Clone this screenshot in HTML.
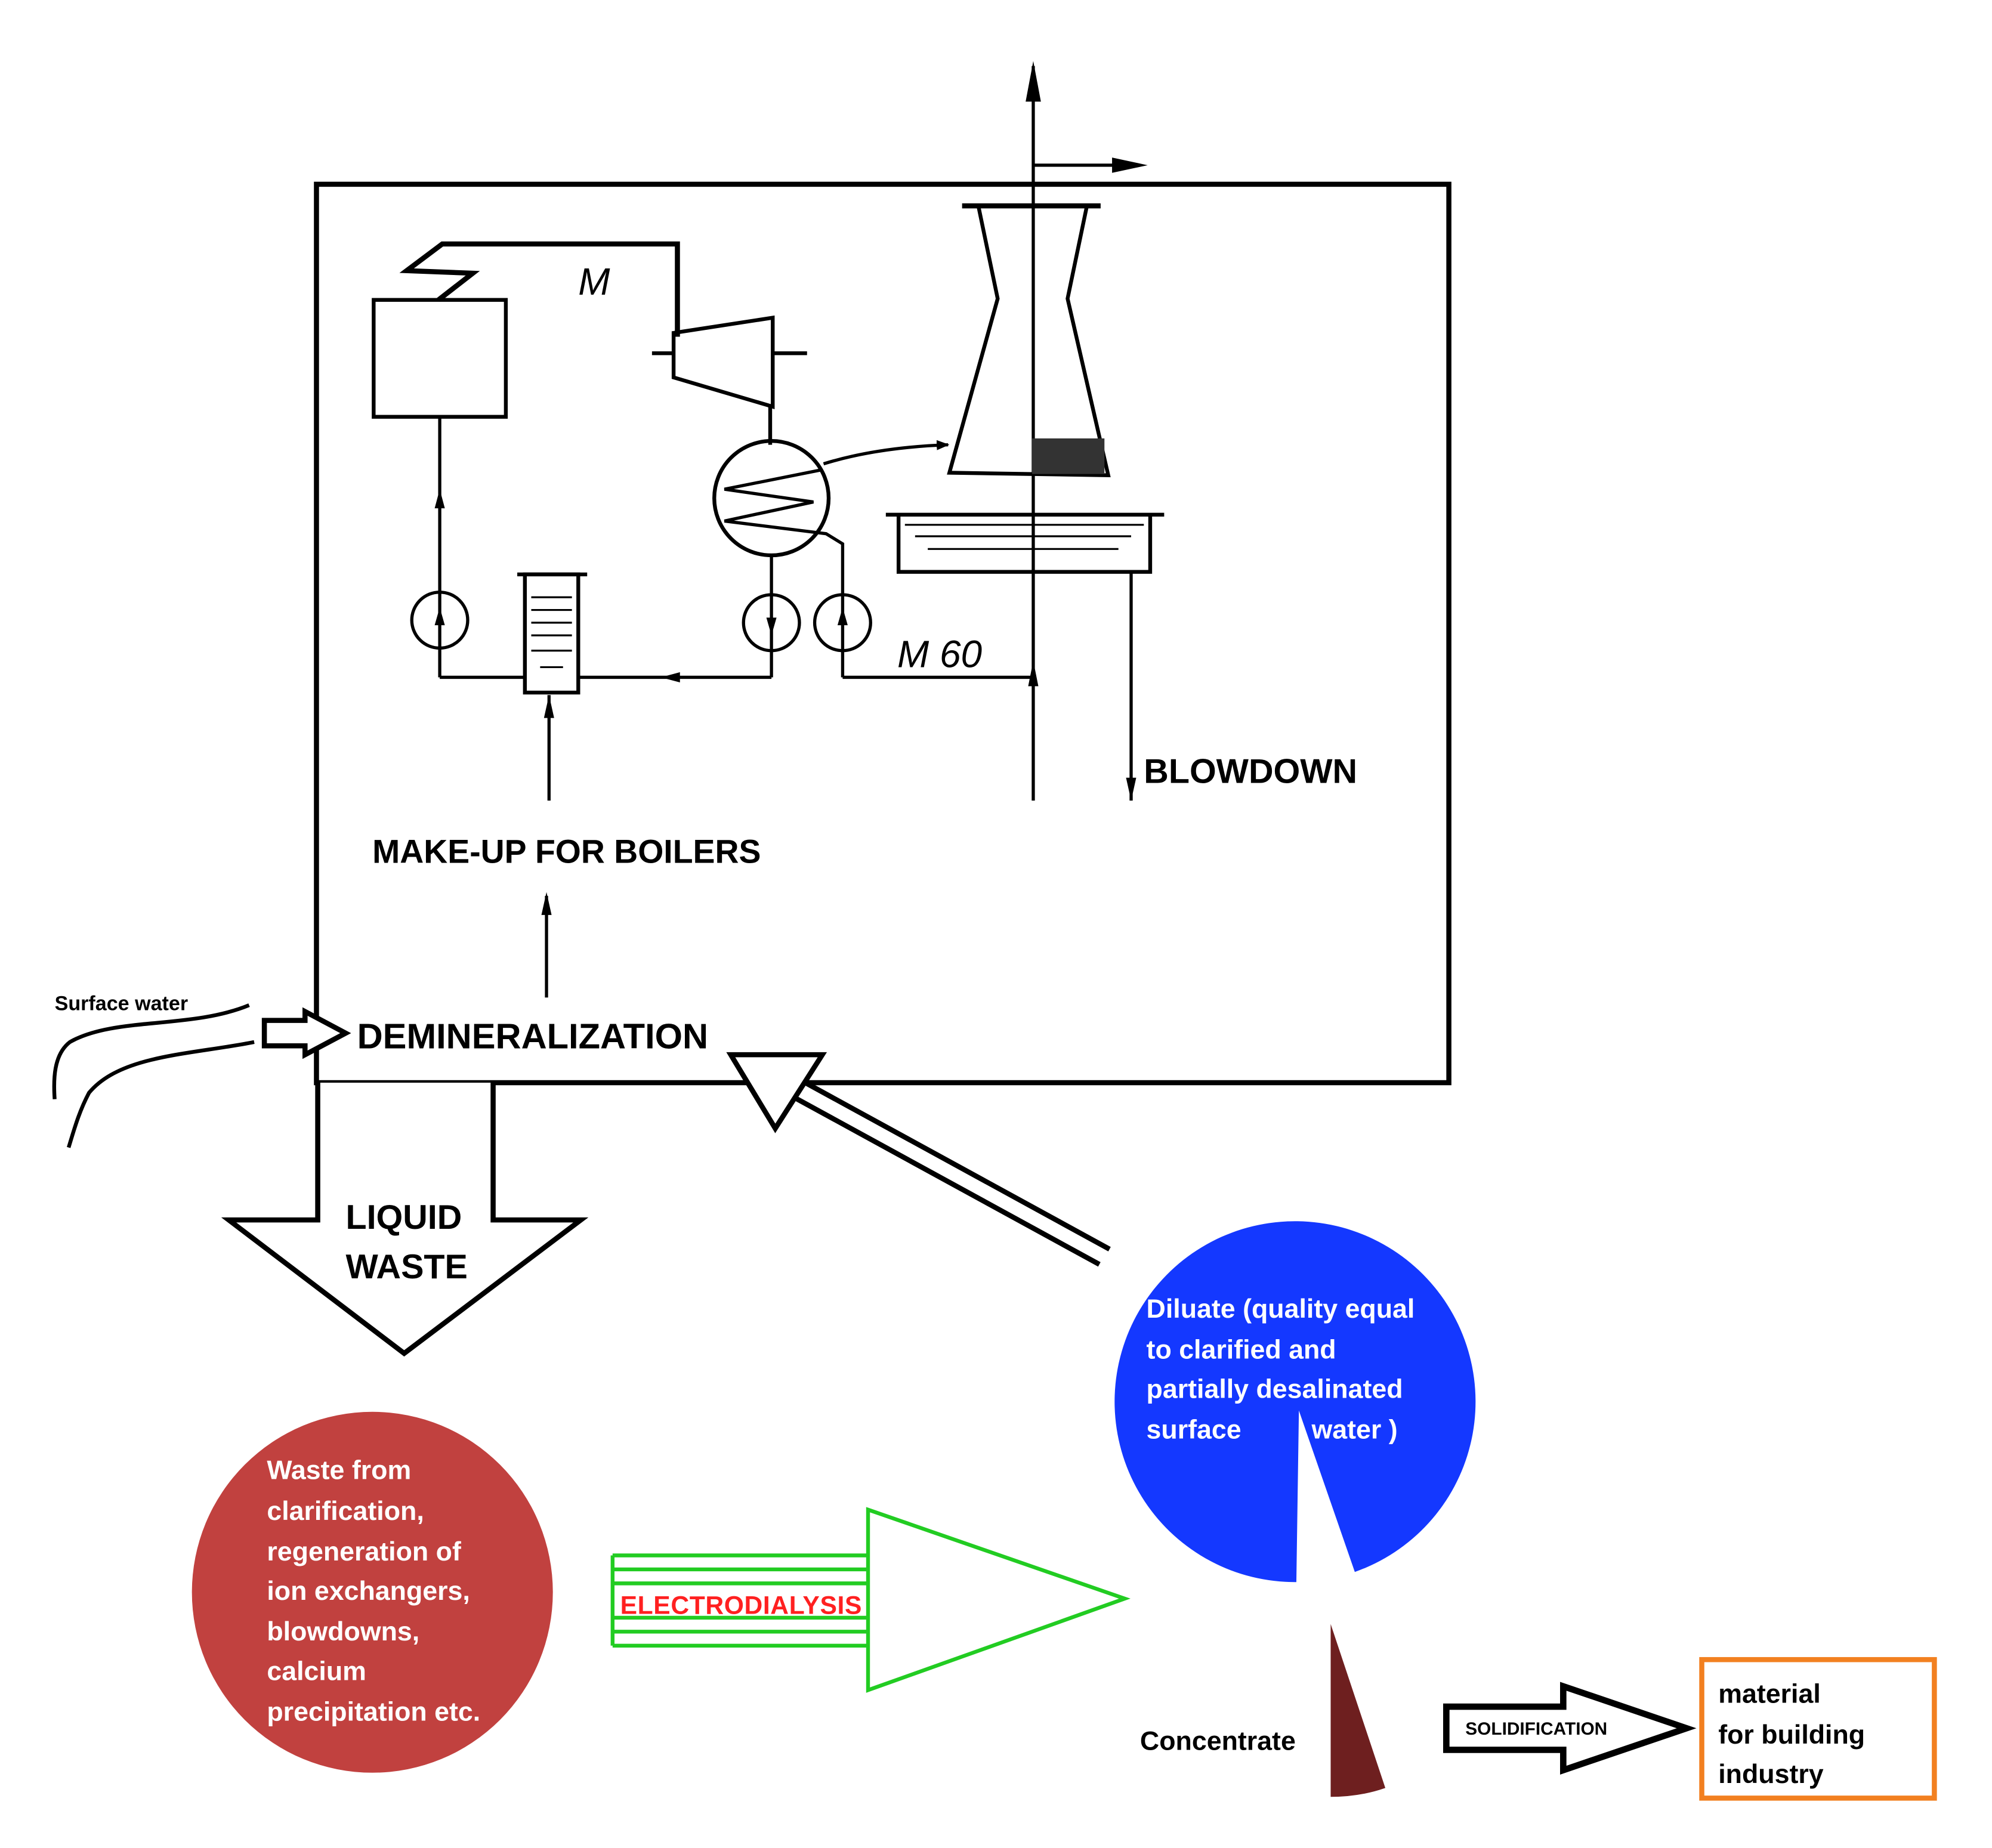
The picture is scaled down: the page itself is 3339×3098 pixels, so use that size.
<!DOCTYPE html>
<html><head><meta charset="utf-8"><style>html,body{margin:0;padding:0;background:#fff}svg{display:block}</style></head>
<body>
<svg width="3339" height="3098" viewBox="0 0 1560.3 1447.7" preserveAspectRatio="none" xmlns="http://www.w3.org/2000/svg" font-family="Liberation Sans, sans-serif">
<defs>
<marker id="ah" markerWidth="10" markerHeight="10" refX="9" refY="5" orient="auto" markerUnits="userSpaceOnUse"><path d="M0,1 L10,5 L0,9 Z" fill="#000"/></marker>
</defs>
<rect width="1560.3" height="1447.7" fill="#fff"/>
<g transform="scale(0.9955)">
<rect x="249" y="145" width="891" height="707" fill="none" stroke="#000" stroke-width="4"/>
<line x1="813" y1="630" x2="813" y2="52" stroke="#000" stroke-width="2.5"/>
<path d="M813,48 L807,80 L819,80 Z" fill="#000"/>
<line x1="813" y1="130" x2="885" y2="130" stroke="#000" stroke-width="2.5"/>
<path d="M903,130 L875,124 L875,136 Z" fill="#000"/>
<line x1="757" y1="162" x2="866" y2="162" stroke="#000" stroke-width="4"/>
<path d="M770,163 L785,235 L747,372 L872,374 L840,235 L855,163" fill="none" stroke="#000" stroke-width="3"/>
<rect x="812" y="345" width="57" height="28" fill="#333"/>
<line x1="697" y1="405" x2="916" y2="405" stroke="#000" stroke-width="3"/>
<path d="M707,405 L707,450 L905,450 L905,405" fill="none" stroke="#000" stroke-width="3"/>
<g stroke="#000" stroke-width="1.5"><line x1="712" y1="413" x2="900" y2="413"/><line x1="720" y1="422" x2="890" y2="422"/><line x1="730" y1="432" x2="880" y2="432"/></g>
<rect x="294" y="236" width="104" height="92" fill="none" stroke="#000" stroke-width="3"/>
<path d="M345,236 L372,215 L320,213 L348,192 L533,192 L533,265" fill="none" stroke="#000" stroke-width="4"/>
<text x="455" y="232" font-size="30" font-style="italic">M</text>
<path d="M530,262 L608,250 L608,320 L530,297 Z" fill="none" stroke="#000" stroke-width="3"/>
<line x1="513" y1="278" x2="530" y2="278" stroke="#000" stroke-width="3"/>
<line x1="608" y1="278" x2="635" y2="278" stroke="#000" stroke-width="3"/>
<line x1="606" y1="320" x2="606" y2="350" stroke="#000" stroke-width="3"/>
<ellipse cx="607" cy="392" rx="45" ry="45" fill="none" stroke="#000" stroke-width="3"/>
<path d="M645,370 L570,385 L640,395 L570,410 L650,420 L663,428 L663,468" fill="none" stroke="#000" stroke-width="2.5"/>
<path d="M648,365 Q690,352 746,350" fill="none" stroke="#000" stroke-width="2.5" marker-end="url(#ah)"/>
<g fill="none" stroke="#000" stroke-width="2.5">
<ellipse cx="346" cy="488" rx="22" ry="22"/>
<ellipse cx="607" cy="490" rx="22" ry="22"/>
<ellipse cx="663" cy="490" rx="22" ry="22"/>
<line x1="346" y1="328" x2="346" y2="533"/>
<line x1="346" y1="533" x2="413" y2="533"/>
<line x1="455" y1="533" x2="607" y2="533"/>
<line x1="607" y1="437" x2="607" y2="533"/>
<line x1="663" y1="468" x2="663" y2="533"/>
<line x1="663" y1="533" x2="813" y2="533"/>
<line x1="890" y1="450" x2="890" y2="630"/>
<line x1="432" y1="630" x2="432" y2="547"/>
<line x1="430" y1="785" x2="430" y2="705"/>
</g>
<path d="M346,385 L342,400 L350,400 Z M346,478 L342,492 L350,492 Z M607,500 L603,486 L611,486 Z M663,478 L659,492 L667,492 Z M520,533 L535,529 L535,537 Z M890,630 L886,612 L894,612 Z M432,547 L428,565 L436,565 Z M430,702 L426,720 L434,720 Z M813,520 L809,540 L817,540 Z" fill="#000"/>
<line x1="407" y1="452" x2="462" y2="452" stroke="#000" stroke-width="3"/>
<rect x="413" y="452" width="42" height="93" fill="none" stroke="#000" stroke-width="3"/>
<g stroke="#000" stroke-width="1.5"><line x1="418" y1="470" x2="450" y2="470"/><line x1="418" y1="480" x2="450" y2="480"/><line x1="418" y1="490" x2="450" y2="490"/><line x1="418" y1="500" x2="450" y2="500"/><line x1="418" y1="512" x2="450" y2="512"/><line x1="425" y1="525" x2="443" y2="525"/></g>
<text x="706" y="525" font-size="30" font-style="italic">M 60</text>
<text x="900" y="616" font-size="27" font-weight="bold">BLOWDOWN</text>
<text x="293" y="679" font-size="26" font-weight="bold">MAKE-UP FOR BOILERS</text>
<text x="281" y="825" font-size="28" font-weight="bold">DEMINERALIZATION</text>
<text x="43" y="795" font-size="16" font-weight="bold">Surface water</text>
<path d="M196,791 C150,810 90,800 55,820 C42,830 42,850 43,865" fill="none" stroke="#000" stroke-width="3"/>
<path d="M200,820 C150,830 95,830 70,860 C62,875 58,890 54,903" fill="none" stroke="#000" stroke-width="3"/>
<path d="M208,803 L240,803 L240,796 L272,813 L240,830 L240,823 L208,823 Z" fill="#fff" stroke="#000" stroke-width="4"/>
<path d="M250,852 L250,960 L180,960 L318,1065 L457,960 L388,960 L388,852" fill="#fff" stroke="#000" stroke-width="4"/>
<text x="272" y="967" font-size="27" font-weight="bold">LIQUID</text>
<text x="272" y="1006" font-size="27" font-weight="bold">WASTE</text>
<line x1="873" y1="983" x2="630" y2="850" stroke="#000" stroke-width="4"/>
<line x1="865" y1="995" x2="622" y2="862" stroke="#000" stroke-width="4"/>
<path d="M575,830 L647,830 L610,888 Z" fill="#fff" stroke="#000" stroke-width="4"/>
<path d="M1022,1110 L1020,1245 A142,142 0 1 1 1066,1237 Z" fill="#1438ff"/>
<g fill="#fff" font-size="21" font-weight="bold">
<text x="902" y="1037">Diluate (quality equal</text>
<text x="902" y="1069">to clarified and</text>
<text x="902" y="1100">partially desalinated</text>
<text x="902" y="1132">surface</text><text x="1032" y="1132">water )</text>
</g>
<circle cx="293" cy="1253" r="142" fill="#c1413f"/>
<g fill="#fff" font-size="21" font-weight="bold">
<text x="210" y="1164">Waste from</text>
<text x="210" y="1196">clarification,</text>
<text x="210" y="1228">regeneration of</text>
<text x="210" y="1259">ion exchangers,</text>
<text x="210" y="1291">blowdowns,</text>
<text x="210" y="1322">calcium</text>
<text x="210" y="1354">precipitation etc.</text>
</g>
<g stroke="#22cc22" stroke-width="3" fill="none">
<line x1="482" y1="1224" x2="683" y2="1224"/><line x1="482" y1="1235" x2="683" y2="1235"/><line x1="482" y1="1246" x2="683" y2="1246"/>
<line x1="482" y1="1273" x2="683" y2="1273"/><line x1="482" y1="1284" x2="683" y2="1284"/><line x1="482" y1="1295" x2="683" y2="1295"/>
<line x1="482" y1="1224" x2="482" y2="1295"/>
<path d="M683,1188 L885,1258 L683,1330 Z" fill="#fff"/>
</g>
<text x="488" y="1270" font-size="20" font-weight="bold" fill="#ff2020" textLength="190">ELECTRODIALYSIS</text>
<path d="M1047,1278 L1090,1407 Q1070,1414 1047,1414 Z" fill="#6e1f1f"/>
<text x="897" y="1377" font-size="21" font-weight="bold">Concentrate</text>
<path d="M1138,1343 L1230,1343 L1230,1327 L1327,1360 L1230,1393 L1230,1377 L1138,1377 Z" fill="#fff" stroke="#000" stroke-width="5"/>
<text x="1153" y="1365" font-size="14" font-weight="bold">SOLIDIFICATION</text>
<rect x="1339" y="1306" width="183" height="109" fill="none" stroke="#f28020" stroke-width="4"/>
<g font-size="21" font-weight="bold">
<text x="1352" y="1340">material</text>
<text x="1352" y="1372">for building</text>
<text x="1352" y="1403">industry</text>
</g>
</g>
</svg>
</body></html>
